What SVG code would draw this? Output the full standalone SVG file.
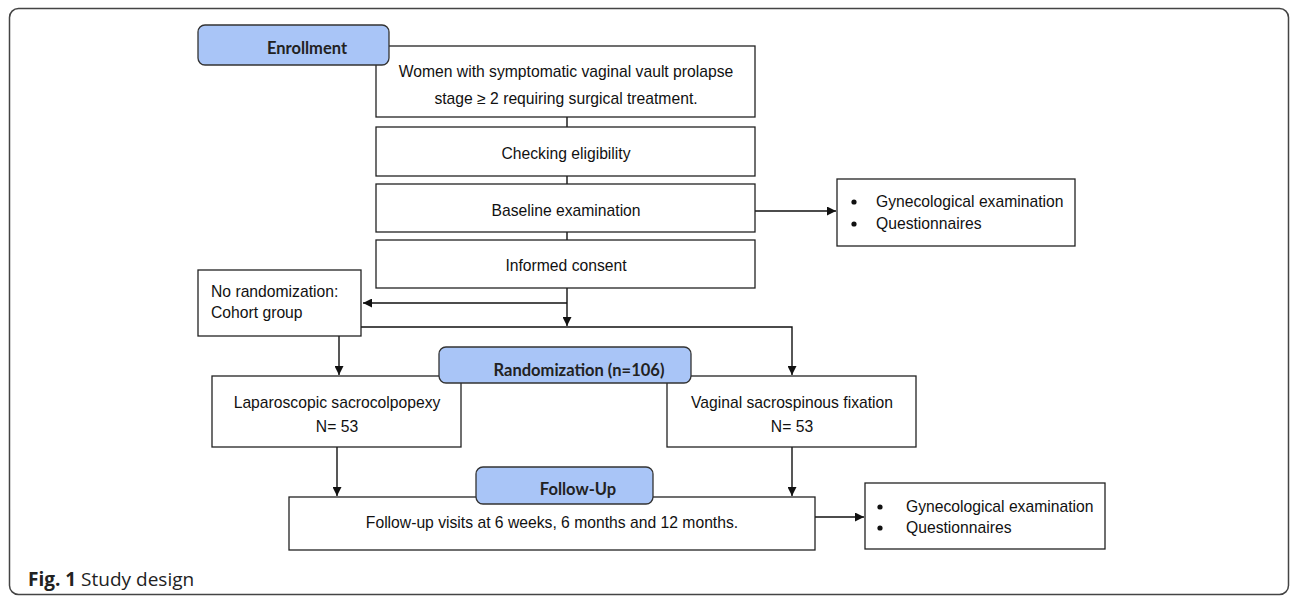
<svg xmlns="http://www.w3.org/2000/svg" width="1290" height="597" viewBox="0 0 1290 597">
<style>
.box{fill:#fff;stroke:#222;stroke-width:1.3}
.pill{fill:#a9c5f7;stroke:#333;stroke-width:1.3}
.t{font-family:"Liberation Sans",Arial,sans-serif;font-size:15.7px;fill:#111}
.c{text-anchor:middle}
.b{font-family:Lato,"Open Sans",sans-serif;font-weight:bold;font-size:16.5px;fill:#222;text-anchor:middle}
.ln{stroke:#111;stroke-width:1.4;fill:none}
.cap{font-family:"Open Sans","Noto Sans",sans-serif;font-size:19px;fill:#222}
</style>
<defs>
<marker id="ah" viewBox="0 0 10 10" refX="10" refY="5" markerWidth="9" markerHeight="9" markerUnits="userSpaceOnUse" orient="auto">
<path d="M0,0 L10,5 L0,10 z" fill="#111"/>
</marker>
</defs>
<rect x="9.5" y="8.5" width="1279" height="586" rx="9" fill="none" stroke="#444" stroke-width="1.5"/>

<g id="connectors">
<line class="ln" x1="567" y1="117" x2="567" y2="127"/>
<line class="ln" x1="567" y1="176" x2="567" y2="184"/>
<line class="ln" x1="567" y1="232" x2="567" y2="240"/>
<line class="ln" x1="755" y1="211" x2="836" y2="211" marker-end="url(#ah)"/>
<line class="ln" x1="567" y1="288" x2="567" y2="326" marker-end="url(#ah)"/>
<line class="ln" x1="567" y1="303" x2="363" y2="303" marker-end="url(#ah)"/>
<polyline class="ln" points="361,327 792,327 792,375" marker-end="url(#ah)"/>
<line class="ln" x1="339" y1="336" x2="339" y2="375" marker-end="url(#ah)"/>
<line class="ln" x1="337" y1="447" x2="337" y2="496" marker-end="url(#ah)"/>
<line class="ln" x1="792" y1="447" x2="792" y2="496" marker-end="url(#ah)"/>
<line class="ln" x1="815" y1="517" x2="864" y2="517" marker-end="url(#ah)"/>
</g>

<g id="women">
<rect class="box" x="376" y="46" width="379" height="71"/>
<text class="t c" x="566" y="77">Women with symptomatic vaginal vault prolapse</text>
<text class="t c" x="566" y="104">stage ≥ 2 requiring surgical treatment.</text>
</g>
<g id="enrollment">
<rect class="pill" x="198" y="25" width="191" height="40" rx="7"/>
<text class="b" x="307" y="54">Enrollment</text>
</g>
<g id="checking">
<rect class="box" x="376" y="127" width="379" height="49"/>
<text class="t c" x="566" y="159">Checking eligibility</text>
</g>
<g id="baseline">
<rect class="box" x="376" y="184" width="379" height="48"/>
<text class="t c" x="566" y="216">Baseline examination</text>
</g>
<g id="consent">
<rect class="box" x="376" y="240" width="379" height="48"/>
<text class="t c" x="566" y="271">Informed consent</text>
</g>
<g id="gyn1">
<rect class="box" x="837" y="179" width="238" height="67"/>
<circle cx="854" cy="202" r="2.6" fill="#111"/>
<circle cx="854" cy="224" r="2.6" fill="#111"/>
<text class="t" x="876" y="207">Gynecological examination</text>
<text class="t" x="876" y="229">Questionnaires</text>
</g>
<g id="norand">
<rect class="box" x="198" y="270" width="163" height="66"/>
<text class="t" x="211" y="297">No randomization:</text>
<text class="t" x="211" y="318">Cohort group</text>
</g>
<g id="lap">
<rect class="box" x="212" y="376" width="249" height="71"/>
<text class="t c" x="337" y="408">Laparoscopic sacrocolpopexy</text>
<text class="t c" x="337" y="432">N= 53</text>
</g>
<g id="vag">
<rect class="box" x="667" y="376" width="249" height="71"/>
<text class="t c" x="792" y="408">Vaginal sacrospinous fixation</text>
<text class="t c" x="792" y="432">N= 53</text>
</g>
<g id="randomization">
<rect class="pill" x="439" y="347" width="252" height="36" rx="7"/>
<text class="b" x="579" y="376">Randomization (n=106)</text>
</g>
<g id="followup">
<rect class="box" x="289" y="497" width="526" height="53"/>
<text class="t c" x="552" y="528">Follow-up visits at 6 weeks, 6 months and 12 months.</text>
</g>
<g id="followup-label">
<rect class="pill" x="476" y="467" width="177" height="37" rx="7"/>
<text class="b" x="578" y="495">Follow-Up</text>
</g>
<g id="gyn2">
<rect class="box" x="865" y="483" width="240" height="66"/>
<circle cx="880" cy="507" r="2.6" fill="#111"/>
<circle cx="880" cy="528" r="2.6" fill="#111"/>
<text class="t" x="906" y="512">Gynecological examination</text>
<text class="t" x="906" y="533">Questionnaires</text>
</g>
<text class="cap" x="28" y="586"><tspan font-weight="bold">Fig. 1</tspan> Study design</text>
</svg>
